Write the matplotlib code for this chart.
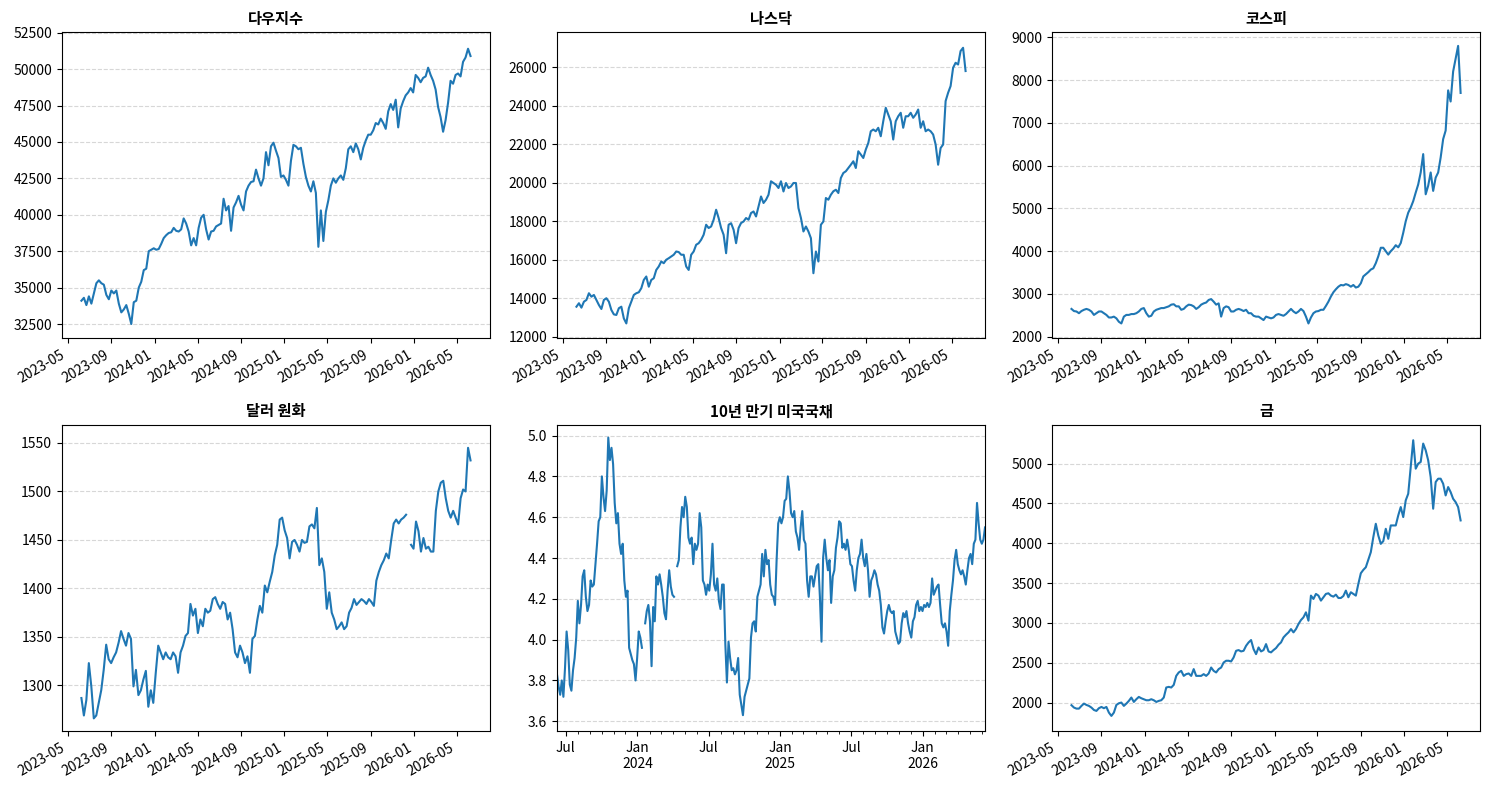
import numpy as np
import pandas as pd
import matplotlib
matplotlib.use("Agg")
import matplotlib.pyplot as plt
import matplotlib.dates as mdates
from matplotlib.ticker import FuncFormatter

plt.rcParams["font.family"] = ["Noto Sans CJK KR", "DejaVu Sans"]
plt.rcParams["axes.unicode_minus"] = False

# sampled closing levels, evenly spaced between START and END
START = "2023-06-09"
END = "2026-06-09"

dow = [
    34100, 34300, 33800, 34400, 33900, 34600, 35300, 35500, 35300, 35200,
    34500, 34200, 34800, 34600, 34800, 33900, 33300, 33500, 33800, 33200,
    32500, 34000, 34100, 35000, 35400, 36200, 36300, 37500, 37600, 37700,
    37600, 37650, 38000, 38400, 38600, 38750, 38800, 39100, 38900, 38850,
    39000, 39750, 39400, 38850, 37900, 38400, 37900, 39100, 39800, 40000,
    39000, 38300, 38850, 38900, 39200, 39300, 39400, 41100, 40300, 40600,
    38900, 40500, 40850, 41300, 40700, 40300, 41600, 42000, 42250, 42300,
    43100, 42500, 42000, 42500, 44300, 43400, 44700, 44950, 44400, 43900,
    42600, 42700, 42400, 42000, 43700, 44800, 44700, 44500, 44600, 43500,
    42600, 42000, 41600, 42300, 41500, 37800, 40300, 38200, 40200, 41000,
    42000, 42500, 42200, 42500, 42700, 42400, 43200, 44500, 44700, 44300,
    44900, 44500, 43800, 44600, 45100, 45500, 45500, 45800, 46300, 46200,
    46600, 46300, 45900, 47100, 47600, 47200, 47900, 46000, 47300, 47800,
    48200, 48400, 48700, 48400, 49600, 49400, 49100, 49400, 49500, 50100,
    49600, 49200, 48600, 47400, 46700, 45700, 46500, 47700, 49200, 49000,
    49600, 49700, 49500, 50500, 50800, 51400, 50900,
]

nasdaq = [
    13560, 13740, 13510, 13820, 13910, 14260, 14080, 14170, 13910, 13650,
    13440, 13910, 14000, 13820, 13390, 13160, 13130, 13480, 13560, 12950,
    12690, 13480, 13820, 14170, 14260, 14310, 14520, 14950, 15130, 14600,
    14950, 15040, 15470, 15650, 15910, 15820, 16000, 16080, 16170, 16260,
    16430, 16400, 16260, 16260, 15650, 15470, 16260, 16430, 16780, 16860,
    17040, 17300, 17820, 17650, 17730, 18080, 18600, 18170, 17650, 17300,
    16340, 17820, 17900, 17560, 16860, 17650, 17910, 17990, 18170, 18080,
    18430, 18510, 18250, 18770, 19290, 18950, 19120, 19380, 20080, 19990,
    19900, 19730, 20080, 19550, 19990, 19730, 19810, 19990, 19990, 18690,
    18170, 17470, 17730, 17470, 17120, 15300, 16430, 15910, 17820, 17990,
    19210, 19120, 19380, 19560, 19640, 19470, 20250, 20510, 20600, 20770,
    20940, 21120, 20770, 21640, 21470, 21290, 21730, 22070, 22680, 22770,
    22680, 22860, 22420, 23200, 23900, 23550, 23200, 22250, 23200, 23460,
    23640, 22860, 23460, 23460, 23640, 23380, 23550, 23810, 22860, 23200,
    22680, 22770, 22680, 22510, 21990, 20940, 21810, 21990, 24250, 24680,
    25030, 25980, 26240, 26150, 26850, 27020, 25810,
]

kospi = [
    2650, 2600, 2590, 2550, 2600, 2630, 2650, 2630, 2590, 2510,
    2550, 2590, 2590, 2550, 2510, 2450, 2450, 2470, 2430, 2350,
    2310, 2470, 2510, 2510, 2530, 2530, 2550, 2590, 2650, 2670,
    2550, 2470, 2490, 2590, 2630, 2650, 2670, 2670, 2690, 2710,
    2750, 2760, 2710, 2710, 2630, 2650, 2710, 2750, 2740, 2710,
    2650, 2690, 2750, 2780, 2800, 2860, 2880, 2820, 2750, 2780,
    2470, 2670, 2710, 2690, 2590, 2590, 2630, 2650, 2630, 2600,
    2630, 2550, 2550, 2490, 2470, 2470, 2430,
    2390, 2470, 2450, 2430, 2450, 2510, 2530, 2510, 2490, 2530,
    2590, 2650, 2590, 2550, 2590, 2650, 2600, 2470, 2310, 2450,
    2550, 2590, 2600, 2630, 2630, 2720, 2820, 2940, 3040, 3110,
    3170, 3210, 3200, 3230, 3210, 3170, 3210, 3150, 3170, 3250,
    3410, 3460, 3510, 3570, 3600, 3720, 3880, 4080, 4080, 4000,
    3920, 4000, 4060, 4140, 4090, 4190, 4430, 4700, 4900, 5020,
    5170, 5370, 5560, 5840, 6270, 5330, 5530, 5840, 5410, 5720,
    5840, 6190, 6620, 6820, 7760, 7500, 8200, 8500, 8800, 7700,
]

usdkrw = [
    1287, 1269, 1285, 1323, 1299, 1266, 1269, 1282, 1295, 1316,
    1342, 1327, 1323, 1329, 1334, 1344, 1356, 1348, 1341, 1354,
    1348, 1299, 1316, 1290, 1295, 1306, 1315, 1278, 1295, 1282,
    1313, 1341, 1334, 1327, 1334, 1329, 1327, 1334, 1330, 1313,
    1334, 1341, 1351, 1354, 1384, 1372, 1379, 1354, 1368, 1361,
    1379, 1375, 1377, 1389, 1391, 1384, 1379, 1386, 1384, 1368,
    1375, 1358, 1334, 1329, 1341, 1334, 1323, 1330, 1313, 1348,
    1351, 1368, 1382, 1375, 1403, 1396, 1407, 1417, 1434, 1445,
    1471, 1473, 1460, 1452, 1431, 1448, 1450, 1445, 1438, 1450,
    1447, 1448, 1464, 1466, 1462, 1483, 1424, 1431, 1417, 1379,
    1396, 1375, 1368, 1358, 1361, 1365, 1358, 1361, 1375, 1380,
    1389, 1383, 1386, 1389, 1387, 1384, 1389, 1386, 1382, 1408,
    1417, 1424, 1429, 1436, 1431, 1450, 1467, 1471, 1467, 1471,
    1473, 1476, np.nan, 1445, 1441, 1469, 1459, 1438, 1452, 1441,
    1443, 1438, 1438, 1480, 1500, 1509, 1511, 1493, 1480, 1473,
    1480, 1473, 1466, 1493, 1502, 1500, 1545, 1532,
]

us10y = [
    3.83, 3.77, 3.73, 3.80, 3.72, 3.86, 4.04, 3.95, 3.78, 3.75,
    3.85, 3.91, 4.01, 4.19, 4.08, 4.17, 4.31, 4.34, 4.21, 4.14,
    4.17, 4.29, 4.26, 4.27, 4.37, 4.47, 4.58, 4.60, 4.80, 4.70,
    4.63, 4.73, 4.99, 4.88, 4.94, 4.86, 4.67, 4.57, 4.62, 4.47,
    4.42, 4.47, 4.29, 4.21, 4.24, 3.96, 3.93, 3.90, 3.88, 3.80,
    3.91, 4.04, 4.01, 3.96, np.nan, 4.08, 4.14, 4.17, 4.09, 3.87,
    4.16, 4.09, 4.31, 4.27, 4.32, 4.27, 4.21, 4.13, 4.10, 4.24,
    4.34, 4.26, 4.22, 4.21, np.nan, 4.36, 4.39, 4.55, 4.65, 4.60,
    4.70, 4.65, 4.50, 4.47, 4.50, 4.37, 4.47, 4.44, 4.47, 4.62,
    4.55, 4.29, 4.27, 4.22, 4.27, 4.24, 4.32, 4.47, 4.27, 4.24,
    4.30, 4.19, 4.15, 4.27, 4.27, 3.98, 3.79, 3.99, 3.91, 3.85,
    3.86, 3.83, 3.85, 3.91, 3.73, 3.68, 3.63, 3.72, 3.75, 3.78,
    3.81, 4.01, 4.08, 4.09, 4.04, 4.21, 4.24, 4.27, 4.42, 4.31,
    4.44, 4.37, 4.39, 4.27, 4.22, 4.21, 4.17, 4.39, 4.57, 4.60,
    4.57, 4.60, 4.68, 4.69, 4.80, 4.73, 4.62, 4.60, 4.63, 4.53,
    4.50, 4.44, 4.55, 4.63, 4.49, 4.47, 4.29, 4.21, 4.31, 4.31,
    4.26, 4.31, 4.36, 4.37, 4.21, 3.99, 4.40, 4.49, 4.40, 4.34,
    4.39, 4.18, 4.31, 4.34, 4.45, 4.50, 4.58, 4.57, 4.45, 4.47,
    4.44, 4.49, 4.44, 4.37, 4.36, 4.29, 4.24, 4.34, 4.40, 4.42,
    4.49, 4.40, 4.36, 4.42, 4.34, 4.21, 4.29, 4.31, 4.34, 4.32,
    4.27, 4.24, 4.17, 4.06, 4.03, 4.09, 4.14, 4.17, 4.14, 4.13,
    4.14, 4.04, 4.01, 3.98, 3.99, 4.08, 4.13, 4.11, 4.14, 4.08,
    4.04, 4.01, 4.09, 4.11, 4.17, 4.19, 4.14, 4.16, 4.14, 4.17,
    4.16, 4.18, 4.16, 4.18, 4.30, 4.22, 4.24, 4.26, 4.27, 4.17,
    4.08, 4.06, 4.08, 4.04, 3.97, 4.14, 4.22, 4.29, 4.39, 4.44,
    4.37, 4.34, 4.32, 4.34, 4.31, 4.27, 4.34, 4.40, 4.42, 4.37,
    4.47, 4.49, 4.67, 4.57, 4.49, 4.47, 4.49, 4.55,
]

gold = [
    1967, 1937, 1924, 1924, 1958, 1987, 1970, 1958, 1937, 1907,
    1895, 1929, 1945, 1929, 1945, 1874, 1832, 1874, 1970, 1991,
    2000, 1958, 1987, 2021, 2063, 2008, 2042, 2071, 2054, 2042,
    2029, 2029, 2042, 2029, 2008, 2021, 2029, 2063, 2189, 2197,
    2189, 2222, 2335, 2378, 2398, 2335, 2357, 2365, 2335, 2420,
    2335, 2335, 2335, 2357, 2335, 2365, 2440, 2398, 2378, 2420,
    2440, 2503, 2525, 2525, 2516, 2566, 2650, 2659, 2642, 2650,
    2713, 2755, 2785, 2671, 2608, 2692, 2642, 2659, 2734, 2642,
    2630, 2659, 2684, 2726, 2755, 2818, 2852, 2881, 2923, 2881,
    2923, 2986, 3036, 3070, 3133, 3028, 3343, 3301, 3364, 3343,
    3280, 3322, 3364, 3372, 3343, 3330, 3355, 3313, 3313, 3338,
    3406, 3322, 3385, 3364, 3343, 3490, 3624, 3666, 3699, 3792,
    3888, 4077, 4245, 4098, 3993, 4027, 4182, 4056, 4224, 4224,
    4224, 4350, 4455, 4329, 4539, 4622, 4958, 5294, 4937, 5000,
    5021, 5252, 5168, 5042, 4832, 4434, 4769, 4811, 4811, 4748,
    4601, 4706, 4643, 4559, 4517, 4455, 4287,
]

titles = ["다우지수", "나스닥", "코스피", "달러 원화", "10년 만기 미국국채", "금"]
panels = [dow, nasdaq, kospi, usdkrw, us10y, gold]
ylims = [(31510, 52550), (11910, 27840), (1960, 9125),
         (1253, 1569), (3.5525, 5.054), (1643, 5491)]


def pandas_style_label(x, pos):
    d = mdates.num2date(x)
    if d.month == 1:
        return "Jan\n{}".format(d.year)
    return "Jul"


fig, axes = plt.subplots(2, 3, figsize=(14.89, 7.9), dpi=100)
fig.subplots_adjust(left=0.0416, right=0.994, top=0.9595, bottom=0.0747,
                    wspace=0.1565, hspace=0.281)

for i, (ax, title, vals, ylim) in enumerate(zip(axes.flat, titles, panels, ylims)):
    dates = pd.date_range(START, END, periods=len(vals))
    ax.plot(dates, vals, color="#1f77b4", linewidth=1.5)
    ax.set_title(title, fontsize=11, fontweight="bold")
    ax.grid(axis="y", linestyle="--", alpha=0.5)
    ax.set_ylim(*ylim)
    ax.tick_params(labelsize=10)
    if i == 4:
        # pandas-style date axis for the bond yield panel
        ax.set_xlim(dates[0], dates[-1])
        ax.xaxis.set_major_locator(mdates.MonthLocator(bymonth=[1, 7]))
        ax.xaxis.set_minor_locator(mdates.MonthLocator())
        ax.xaxis.set_major_formatter(FuncFormatter(pandas_style_label))
        ax.xaxis.set_minor_formatter(FuncFormatter(lambda x, p: ""))
    else:
        ax.xaxis.set_major_locator(mdates.MonthLocator(bymonth=[1, 5, 9]))
        ax.xaxis.set_major_formatter(mdates.DateFormatter("%Y-%m"))
        plt.setp(ax.get_xticklabels(), rotation=30, ha="right")

fig.savefig("out.png", dpi=100)
